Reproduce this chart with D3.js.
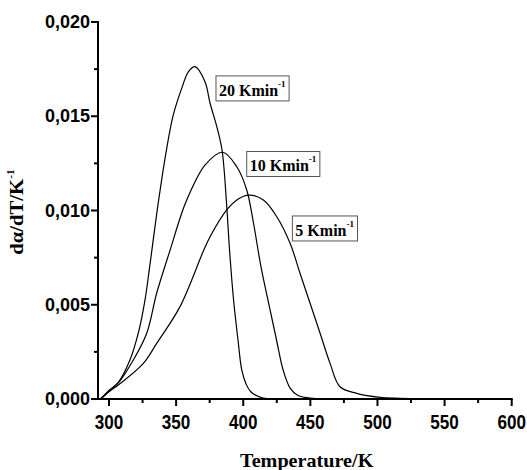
<!DOCTYPE html>
<html>
<head>
<meta charset="utf-8">
<script src="https://cdn.jsdelivr.net/npm/d3@7.9.0/dist/d3.min.js"></script>
<style>
  body { margin: 0; background: #fff; }
  svg { display: block; }
  .tick-label { font-family: "Liberation Sans", Arial, sans-serif; font-weight: bold; font-size: 18px; }
  .axis-title { font-family: "Liberation Serif", "Times New Roman", serif; font-weight: bold; font-size: 18px; }
  .note { font-family: "Liberation Serif", "Times New Roman", serif; font-weight: bold; font-size: 16px; }
</style>
</head>
<body>
<svg width="527" height="470"></svg>
<script>
// temperatures (K) and dα/dT values
const t20 = [293.8, 300, 306.9, 315.6, 321.8, 326.8, 330.3, 337.0, 343.0, 347.9, 354.6, 359.1, 364.1, 371.5, 375.3, 380.3, 384.2, 387.4, 389.8, 392.8, 396.1, 398.9, 402.1, 405.8, 414.8, 427.4, 445];
const v20 = [0, 0.00045, 0.00088, 0.00207, 0.00349, 0.00525, 0.00702, 0.01056, 0.01330, 0.01507, 0.01657, 0.01736, 0.01763, 0.01683, 0.01569, 0.01445, 0.01321, 0.01056, 0.00790, 0.00525, 0.00313, 0.00154, 0.00080, 0.00037, 0.00005, 0.00001, 0];

const t10 = [293.8, 300, 306.9, 318.1, 328.1, 335.5, 345.5, 353.7, 357.9, 371.5, 384.7, 395.2, 402.6, 407.5, 413.2, 419.2, 424.8, 429.7, 434.9, 440.8, 452.0, 470, 490];
const v10 = [0, 0.00043, 0.00085, 0.00207, 0.00349, 0.00561, 0.00790, 0.00976, 0.01056, 0.01241, 0.01309, 0.01232, 0.01109, 0.00939, 0.00702, 0.00499, 0.00313, 0.00154, 0.00058, 0.00019, 0.00004, 0.00001, 0];

const t5 = [293.8, 300, 306.9, 325.6, 335.5, 352.9, 370.3, 375.3, 387.7, 396.0, 403.8, 415.0, 425.0, 434.9, 442.3, 449.8, 457.2, 464.7, 472.1, 484.6, 501.9, 516.8, 535];
const v5 = [0, 0.00038, 0.00074, 0.00189, 0.00295, 0.00490, 0.00785, 0.00861, 0.01003, 0.01060, 0.01082, 0.01056, 0.00967, 0.00826, 0.00667, 0.00508, 0.00350, 0.00189, 0.00065, 0.00030, 0.00009, 0.00004, 0];

const xTicks = [300, 350, 400, 450, 500, 550, 600];
const xMinor = [325, 375, 425, 475, 525, 575];
const yTicks = [0, 0.005, 0.010, 0.015, 0.020];
const yMinor = [0.0025, 0.0075, 0.0125, 0.0175];

// label boxes: heating rate and the box's top-left corner in data units
const noteRates = ["20", "10", "5"];
const noteT = [379.7, 402.6, 436.6];
const noteV = [0.01714, 0.01313, 0.00971];

const svg = d3.select("svg");

const x = d3.scaleLinear().domain([291.8, 600]).range([98, 511.7]);
const y = d3.scaleLinear().domain([0, 0.020]).range([399, 22]);

const fmt = (d) => d3.format(".3f")(d).replace(".", ",");

// curves
const line = d3.line()
    .x((d) => x(d[0]))
    .y((d) => y(d[1]))
    .curve(d3.curveCatmullRom.alpha(0.5));

[[t20, v20], [t10, v10], [t5, v5]].forEach(([ts, vs]) => {
    svg.append("path")
        .datum(ts.map((t, i) => [t, vs[i]]))
        .attr("d", line)
        .attr("fill", "none")
        .attr("stroke", "#000")
        .attr("stroke-width", 1.2);
});

// x axis
let xAxis = svg.append("g").attr("transform", `translate(0,${y(0)})`);
xAxis.append("line")
    .attr("x1", x.range()[0] - 1).attr("x2", x.range()[1] + 1)
    .attr("stroke", "#000").attr("stroke-width", 2);
xTicks.forEach((t) => {
    xAxis.append("line")
        .attr("x1", x(t)).attr("x2", x(t)).attr("y1", 0).attr("y2", 7)
        .attr("stroke", "#000").attr("stroke-width", 2);
    xAxis.append("text")
        .attr("class", "tick-label")
        .attr("transform", `translate(${x(t)},30) scale(0.95,1.12)`)
        .attr("text-anchor", "middle")
        .text(t);
});
xMinor.forEach((t) => {
    xAxis.append("line")
        .attr("x1", x(t)).attr("x2", x(t)).attr("y1", 0).attr("y2", 4)
        .attr("stroke", "#000").attr("stroke-width", 2);
});

// y axis
let yAxis = svg.append("g").attr("transform", `translate(${x.range()[0]},0)`);
yAxis.append("line")
    .attr("y1", y(0.020) - 1).attr("y2", y(0) + 1)
    .attr("stroke", "#000").attr("stroke-width", 2);
yTicks.forEach((v) => {
    yAxis.append("line")
        .attr("x1", -7).attr("x2", 0).attr("y1", y(v)).attr("y2", y(v))
        .attr("stroke", "#000").attr("stroke-width", 2);
    yAxis.append("text")
        .attr("class", "tick-label")
        .attr("x", -8).attr("y", y(v) + 6)
        .attr("text-anchor", "end")
        .text(fmt(v));
});
yMinor.forEach((v) => {
    yAxis.append("line")
        .attr("x1", -4).attr("x2", 0).attr("y1", y(v)).attr("y2", y(v))
        .attr("stroke", "#000").attr("stroke-width", 2);
});

// axis titles
svg.append("text")
    .attr("class", "axis-title")
    .attr("transform", "translate(306.7,467) scale(1.12,1)")
    .attr("text-anchor", "middle")
    .text("Temperature/K");

let yTitle = svg.append("text")
    .attr("class", "axis-title")
    .attr("font-size", 19)
    .attr("transform", "translate(23,212) rotate(-90) scale(1.15,1)")
    .attr("text-anchor", "middle");
yTitle.append("tspan").text("dα/dT/K");
yTitle.append("tspan").attr("font-size", 10).attr("dy", -9).text("-1");

// heating-rate labels in boxes
noteRates.forEach((r, i) => {
    let g = svg.append("g");
    let bx = x(noteT[i]), by = y(noteV[i]);
    let rect = g.append("rect");
    let txt = g.append("text")
        .attr("class", "note")
        .attr("x", bx + 3).attr("y", by + 20);
    txt.append("tspan").text(`${r} Kmin`);
    txt.append("tspan").attr("font-size", 9).attr("dy", -9).text("-1");
    let bb = txt.node().getBBox();
    rect.attr("x", bx).attr("y", by)
        .attr("width", bb.width + 6).attr("height", 25)
        .attr("fill", "#fff").attr("stroke", "#555").attr("stroke-width", 1);
});
</script>
</body>
</html>
